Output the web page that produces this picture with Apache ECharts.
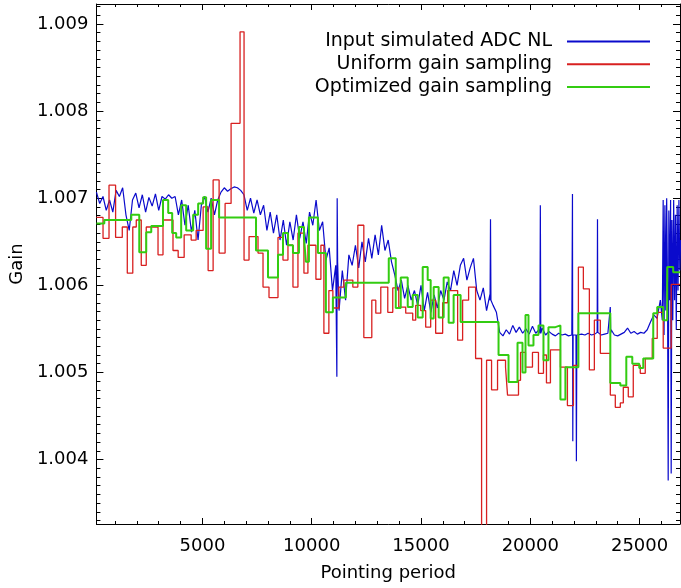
<!DOCTYPE html>
<html>
<head>
<meta charset="utf-8">
<script src="https://cdn.jsdelivr.net/npm/echarts@6/dist/echarts.min.js"></script>
<style>html,body{margin:0;padding:0;background:#fff;}#c{width:681px;height:588px;}</style>
</head>
<body>
<div id="c"></div>
<script>
// ---------------- data ----------------
const X_MIN = 150, X_MAX = 26850;
const Y_MIN = 1.00326, Y_MAX = 1.00923;

const xTickValues = [5000, 10000, 15000, 20000, 25000];
const yTickValues = [1.004, 1.005, 1.006, 1.007, 1.008, 1.009];

// Input simulated ADC NL: regular samples (start 150, step 150)
const blueStart = 150, blueStep = 150;
const blueValues = [
1.00707,1.00694,1.00702,1.00686,1.00698,1.00684,1.00709,1.00702,1.00712,1.00681,
1.00663,1.00698,1.00706,1.00689,1.00704,1.00684,1.00701,1.00691,1.00705,1.00686,
1.00702,1.00699,1.00704,1.00700,1.00702,1.00681,1.00698,1.00669,1.00692,1.00661,
1.00686,1.00652,1.00692,1.00702,1.00684,1.00700,1.00681,1.00698,1.00707,1.00712,
1.00708,1.00711,1.00713,1.00712,1.00709,1.00704,1.00686,1.00700,1.00683,1.00698,
1.00681,1.00692,1.00663,1.00684,1.00660,1.00681,1.00652,1.00675,1.00646,1.00673,
1.00652,1.00681,1.00654,1.00673,1.00648,1.00684,1.00669,1.00698,1.00663,1.00673,
1.00629,1.00643,1.00594,1.00623,1.00571,1.00617,1.00583,1.00635,1.00623,1.00646,
1.00620,1.00650,1.00627,1.00654,1.00631,1.00658,1.00635,1.00669,1.00640,1.00652,
1.00627,1.00612,1.00594,1.00606,1.00585,1.00600,1.00583,1.00594,1.00577,1.00600,
1.00571,1.00592,1.00569,1.00589,1.00574,1.00594,1.00583,1.00604,1.00594,1.00617,
1.00600,1.00623,1.00631,1.00606,1.00620,1.00631,1.00594,1.00583,1.00597,1.00571,
1.00589,1.00577,1.00569,1.00546,1.00542,1.00549,1.00544,1.00554,1.00546,1.00552,
1.00545,1.00550,1.00544,1.00553,1.00545,1.00549,1.00551,1.00543,1.00547,1.00544,
1.00542,1.00545,1.00543,1.00544,1.00542,1.00543,1.00544,1.00542,1.00544,1.00543,
1.00545,1.00543,1.00544,1.00546,1.00543,1.00544,1.00545,1.00549,1.00543,1.00542,
1.00544,1.00546,1.00551,1.00545,1.00547,1.00544,1.00546,1.00545,1.00549,1.00558,
1.00566,1.00562,1.00583
];
// spikes and the noisy end of the input curve: [pointing period, gain]
const blueExtra = [
[11130,1.00623],[11150,1.00495],[11165,1.00700],[11185,1.00627],
[18160,1.00583],[18180,1.00676],[18200,1.00583],
[20440,1.00545],[20460,1.00692],[20480,1.00545],
[21915,1.00543],[21930,1.00705],[21945,1.00421],[21960,1.00543],
[22090,1.00543],[22110,1.00398],[22130,1.00543],
[23060,1.00546],[23075,1.00676],[23090,1.00546],
[23640,1.00545],[23660,1.00575],[23680,1.00545],
[26040,1.00560],[26080,1.00698],[26120,1.00543],[26160,1.00692],[26200,1.00571],
[26240,1.00700],[26280,1.00594],[26310,1.00376],[26340,1.00686],[26380,1.00583],
[26420,1.00698],[26447,1.00384],[26480,1.00675],[26520,1.00560],[26560,1.00698],
[26600,1.00583],[26640,1.00681],[26680,1.00549],[26720,1.00692],[26760,1.00594],
[26800,1.00698],[26840,1.00617],[26880,1.00652]
];

// Uniform gain sampling (step starts)
const redX = [150,452,726,1027,1333,1562,1813,1973,2201,2429,2968,3196,3653,3890,4164,4484,4712,5032,5260,5489,
5763,6037,6311,6721,6904,7132,7543,7772,8046,8457,8685,8913,9142,9370,9644,9826,10192,10420,10557,10785,
10968,11242,11470,11881,12110,12384,12749,12932,13160,13480,13708,13982,14301,14621,14758,14986,15215,15443,15671,15991,
16219,16676,16904,17178,17498,17772,18000,18228,18502,18868,18959,19461,19553,19781,20100,20374,20603,20740,20922,21379,
21699,21973,22201,22429,22703,22932,23205,23662,23890,24119,24256,24484,24712,25032,25260,25580,25808,26082,26447,26850];
const redY = [1.00678,1.00654,1.00715,1.00655,1.00667,1.00614,1.00667,1.00675,1.00623,1.00667,1.00635,1.00675,1.00640,1.00632,1.00658,1.00652,1.00663,1.00690,1.00617,1.00721,
1.00637,1.00694,1.00786,1.00891,1.00629,1.00656,1.00637,1.00598,1.00586,1.00655,1.00629,1.00646,1.00598,1.00660,1.00614,1.00646,1.00607,1.00646,1.00545,1.00594,
1.00574,1.00598,1.00606,1.00598,1.00669,1.00540,1.00583,1.00568,1.00598,1.00569,1.00597,1.00575,1.00568,1.00560,1.00577,1.00571,1.00552,1.00583,1.00545,1.00580,
1.00594,1.00537,1.00583,1.00598,1.00516,1.00300,1.00514,1.00480,1.00514,1.00506,1.00474,1.00491,1.00523,1.00506,1.00523,1.00499,1.00520,1.00488,1.00526,1.00506,
1.00462,1.00508,1.00621,1.00596,1.00503,1.00560,1.00522,1.00474,1.00460,1.00465,1.00483,1.00472,1.00508,1.00499,1.00516,1.00539,1.00569,1.00528,1.00601,1.00601];

// Optimized gain sampling (step starts)
const greenX = [150,511,1744,2110,2429,2658,3196,3434,3616,3799,4027,4256,4575,4804,5032,5169,5397,5763,7452,8000,
8457,8685,8913,9142,9416,9644,9735,9872,10283,10648,10968,11562,13525,13845,14073,14393,14621,14849,15078,15306,
15443,15580,15808,16037,16265,16493,16813,18548,19005,19416,19644,19781,19918,20146,20374,20603,20831,21151,21379,21607,
22201,23662,24119,24393,24667,24986,25169,25626,25808,26082,26265,26539,26850];
const greenY = [1.00671,1.00675,1.00681,1.00638,1.00661,1.00668,1.00698,1.00683,1.00660,1.00655,1.00692,1.00663,1.00681,1.00694,1.00701,1.00642,1.00698,1.00678,1.00640,1.00609,
1.00635,1.00660,1.00646,1.00637,1.00667,1.00655,1.00627,1.00678,1.00637,1.00569,1.00586,1.00603,1.00631,1.00574,1.00609,1.00575,1.00589,1.00563,1.00621,1.00606,
1.00562,1.00598,1.00563,1.00609,1.00557,1.00589,1.00558,1.00520,1.00489,1.00534,1.00500,1.00566,1.00531,1.00543,1.00554,1.00514,1.00552,1.00554,1.00469,1.00506,
1.00568,1.00488,1.00485,1.00518,1.00510,1.00505,1.00516,1.00568,1.00575,1.00560,1.00621,1.00615,1.00615];

const seriesNames = ['Input simulated ADC NL', 'Uniform gain sampling', 'Optimized gain sampling'];
// --------------------------------------

const FONT = 'DejaVu Sans';
const blueData = blueValues.map((v, i) => [blueStart + i * blueStep, v])
  .concat(blueExtra).sort((a, b) => a[0] - b[0]);
const redData = redX.map((x, i) => [x, redY[i]]);
const greenData = greenX.map((x, i) => [x, greenY[i]]);

const xMinor = []; for (let v = 1000; v <= 26000; v += 1000) xMinor.push(v);
const yMinor = []; for (let k = 33; k <= 92; k++) yMinor.push(+(1 + k / 10000).toFixed(4));

function xAx(pos, major, withLabels) {
  return {
    type: 'value', min: X_MIN, max: X_MAX, position: pos,
    axisLine: { show: major, onZero: false, lineStyle: { color: '#000', width: 1 } },
    axisTick: { show: true, inside: true, length: major ? 6 : 3, customValues: major ? xTickValues : xMinor, lineStyle: { color: '#000', width: 1 } },
    axisLabel: { show: withLabels, customValues: xTickValues, formatter: v => String(Math.round(v)), color: '#000', fontSize: 18, fontFamily: FONT, margin: 13 },
    splitLine: { show: false },
    name: withLabels ? 'Pointing period' : '', nameLocation: 'middle', nameGap: 40,
    nameTextStyle: { color: '#000', fontSize: 18, fontFamily: FONT }
  };
}
function yAx(pos, major, withLabels) {
  return {
    type: 'value', min: Y_MIN, max: Y_MAX, position: pos,
    axisLine: { show: major, onZero: false, lineStyle: { color: '#000', width: 1 } },
    axisTick: { show: true, inside: true, length: major ? 7 : 4, customValues: major ? yTickValues : yMinor, lineStyle: { color: '#000', width: 1 } },
    axisLabel: { show: withLabels, customValues: yTickValues, formatter: v => v.toFixed(3), color: '#000', fontSize: 18, fontFamily: FONT, margin: 8 },
    splitLine: { show: false },
    name: withLabels ? 'Gain' : '', nameLocation: 'middle', nameGap: 68,
    nameTextStyle: { color: '#000', fontSize: 18, fontFamily: FONT }
  };
}

const chart = echarts.init(document.getElementById('c'), null, { renderer: 'canvas' });
chart.setOption({
  animation: false,
  backgroundColor: '#fff',
  grid: { left: 95, right: 1, top: 4, bottom: 64 },
  xAxis: [xAx('bottom', true, true), xAx('bottom', false, false), xAx('top', true, false), xAx('top', false, false)],
  yAxis: [yAx('left', true, true), yAx('left', false, false), yAx('right', true, false), yAx('right', false, false)],
  legend: {
    orient: 'vertical', right: 31, top: 32, align: 'right', icon: 'rect', padding: 0,
    itemWidth: 83, itemHeight: 2, itemGap: 3.7,
    textStyle: { color: '#000', fontSize: 19, fontFamily: FONT, lineHeight: 18, padding: [0, 10, 0, 0] },
    data: seriesNames
  },
  series: [
    { name: seriesNames[0], type: 'line', data: blueData, showSymbol: false, symbol: 'none', color: '#0a0acc', lineStyle: { width: 1.2, color: '#0a0acc' } },
    { name: seriesNames[1], type: 'line', data: redData, step: 'end', showSymbol: false, symbol: 'none', color: '#d82020', lineStyle: { width: 1.3, color: '#d82020' } },
    { name: seriesNames[2], type: 'line', data: greenData, step: 'end', showSymbol: false, symbol: 'none', color: '#33cc11', lineStyle: { width: 2, color: '#33cc11' } }
  ]
});
</script>
</body>
</html>
